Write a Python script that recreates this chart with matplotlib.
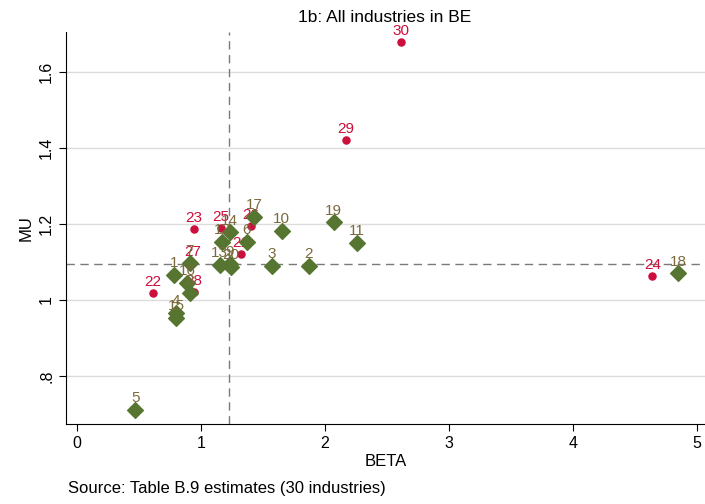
import numpy as np
import matplotlib.pyplot as plt

plt.rcParams['font.family'] = ['Liberation Sans', 'DejaVu Sans']

# industries drawn as diamonds
dia_lab = ['1', '2', '3', '4', '5', '6', '7', '8', '9', '10',
           '11', '12', '13', '14', '15', '16', '17', '18', '19', '20']
dia_beta = [0.78, 1.87, 1.57, 0.80, 0.47, 1.37, 0.91, 0.91, 1.23, 1.65,
            2.26, 1.17, 1.15, 1.23, 0.80, 0.89, 1.43, 4.85, 2.07, 1.24]
dia_mu = [1.066, 1.089, 1.089, 0.965, 0.711, 1.153, 1.098, 1.019, 1.095, 1.182,
          1.151, 1.153, 1.092, 1.178, 0.953, 1.045, 1.218, 1.070, 1.204, 1.087]

# industries drawn as dots
dot_lab = ['21', '22', '23', '24', '25', '26', '27', '28', '29', '30']
dot_beta = [1.32, 0.61, 0.94, 4.64, 1.16, 1.40, 0.93, 0.94, 2.17, 2.61]
dot_mu = [1.121, 1.018, 1.187, 1.063, 1.190, 1.195, 1.097, 1.021, 1.421, 1.679]

mean_beta = 1.226
mean_mu = 1.095

green = '#557530'
olive = '#7a6a3c'
red = '#cc0f3c'

fig = plt.figure(figsize=(7.05, 5.04), dpi=100)
ax = fig.add_axes([66/705, 1-424/504, 639/705, 392/504])

ax.set_xlim(-0.089, 5.065)
ax.set_ylim(0.674, 1.705)
ax.set_yticks([0.8, 1.0, 1.2, 1.4, 1.6])
ax.set_yticklabels(['.8', '1', '1.2', '1.4', '1.6'], rotation=90, va='center')
ax.set_xticks([0, 1, 2, 3, 4, 5])
ax.grid(axis='y', color='#dcdcdc', lw=1)
ax.set_axisbelow(True)
for s in ['top', 'right']:
    ax.spines[s].set_visible(False)
ax.tick_params(labelsize=11.5, length=5, direction='out')

ax.axvline(mean_beta, color='#7a7a7a', ls=(0, (6, 4)), lw=1, zorder=1)
ax.axhline(mean_mu, color='#7a7a7a', ls=(0, (6, 4)), lw=1, zorder=1)

ax.scatter(dot_beta, dot_mu, s=26, color=red, zorder=3)
for x, y, t in zip(dot_beta, dot_mu, dot_lab):
    ax.annotate(t, (x, y), xytext=(0, 3), textcoords='offset points',
                ha='center', va='bottom', color=red, fontsize=11, zorder=3)

ax.scatter(dia_beta, dia_mu, s=64, marker='D', color=green, zorder=4)
for x, y, t in zip(dia_beta, dia_mu, dia_lab):
    ax.annotate(t, (x, y), xytext=(0, 3.5), textcoords='offset points',
                ha='center', va='bottom', color=olive, fontsize=11, zorder=4)

ax.set_xlabel('BETA', fontsize=12, labelpad=2)
ax.set_ylabel('MU', fontsize=12)
fig.text(385/705, 1-17/504, '1b: All industries in BE', ha='center', va='center', fontsize=12.5)
fig.text(68/705, 1-488/504, 'Source: Table B.9 estimates (30 industries)', ha='left', va='center', fontsize=12)

plt.savefig('out.png', dpi=100)
